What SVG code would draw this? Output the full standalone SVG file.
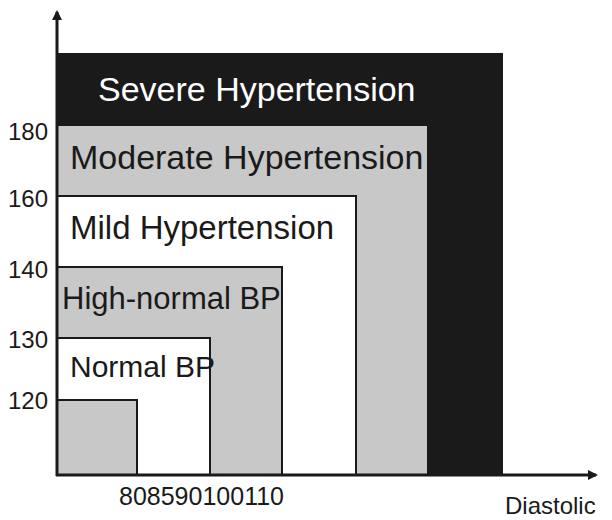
<svg xmlns="http://www.w3.org/2000/svg" width="612" height="520" viewBox="0 0 612 520">
<style>
text{font-family:"Liberation Sans",Arial,sans-serif;fill:#1a1a1a}
.b{stroke:#1a1a1a;stroke-width:2}
.g{fill:#c8c8c8}.w{fill:#fff}.k{fill:#1a1a1a}
.t{font-size:24px}
</style>
<defs><marker id="a" markerWidth="10" markerHeight="10" refX="8" refY="5" orient="auto" markerUnits="userSpaceOnUse" viewBox="0 0 10 10"><path d="M0,0L10,5L0,10z" fill="#1a1a1a"/></marker></defs>
<g id="severe"><rect x="57" y="54" width="445" height="421" class="k b"/><text x="98" y="101" style="fill:#fff;font-size:34px">Severe Hypertension</text></g>
<g id="moderate"><rect x="57" y="125" width="371" height="350" class="g b"/><text x="70" y="169" style="font-size:34px">Moderate Hypertension</text></g>
<g id="mild"><rect x="57" y="196" width="299" height="279" class="w b"/><text x="70" y="239" style="font-size:33px">Mild Hypertension</text></g>
<g id="highnormal"><rect x="57" y="267" width="225" height="208" class="g b"/><text x="62" y="309" style="font-size:31px">High-normal BP</text></g>
<g id="normal"><rect x="57" y="338" width="153" height="137" class="w b"/><text x="70" y="377" style="font-size:30px">Normal BP</text></g>
<g id="optimal"><rect x="57" y="400" width="80" height="75" class="g b"/></g>
<g id="connectors">
<line x1="57" y1="476" x2="57" y2="12" class="b" style="stroke-width:3" marker-end="url(#a)"/>
<line x1="56" y1="475" x2="596" y2="475" class="b" style="stroke-width:3" marker-end="url(#a)"/>
</g>
<g id="labels">
<text x="8" y="140" class="t">180</text>
<text x="8" y="207" class="t">160</text>
<text x="8" y="278" class="t">140</text>
<text x="8" y="348" class="t">130</text>
<text x="8" y="409" class="t">120</text>
<text x="119" y="505" style="font-size:25px">808590100110</text>
<text x="505" y="514" class="t">Diastolic</text>
</g>
</svg>
